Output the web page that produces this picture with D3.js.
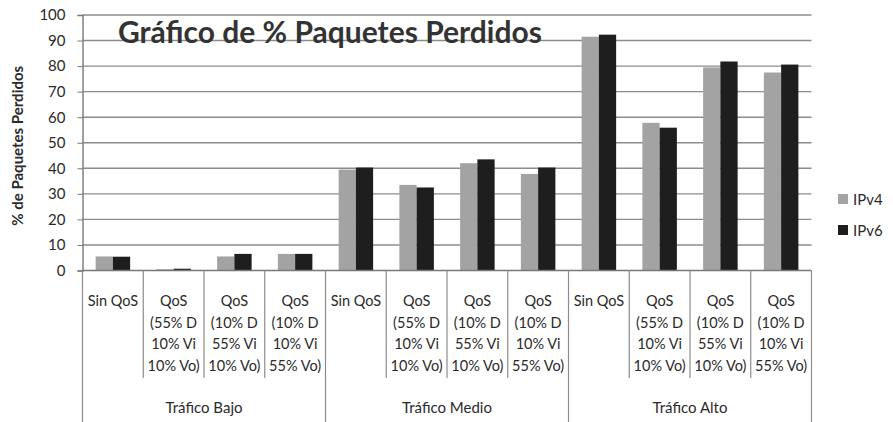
<!DOCTYPE html>
<html>
<head>
<meta charset="utf-8">
<script src="https://cdn.jsdelivr.net/npm/d3@7"></script>
<style>
  body { margin: 0; background: #fff; }
  svg { display: block; font-family: Lato, "Open Sans", sans-serif; }
</style>
</head>
<body>
<div id="chartDiv"></div>
<script>
var width = 893;
var height = 422;

// data
var groups = ["Tráfico Bajo", "Tráfico Medio", "Tráfico Alto"];
var subLabels = [
  ["Sin QoS"],
  ["QoS", "(55% D", "10% Vi", "10% Vo)"],
  ["QoS", "(10% D", "55% Vi", "10% Vo)"],
  ["QoS", "(10% D", "10% Vi", "55% Vo)"]
];
var series = ["IPv4", "IPv6"];
var ipv4 = [5.5, 0.5, 5.5, 6.5,  39.5, 33.5, 42, 37.8,  91.5, 57.8, 79.5, 77.5];
var ipv6 = [5.4, 0.7, 6.5, 6.5,  40.3, 32.5, 43.5, 40.3,  92.3, 55.9, 81.8, 80.6];
var yTicks = [0, 10, 20, 30, 40, 50, 60, 70, 80, 90, 100];

var colors = {IPv4: "#a3a3a3", IPv6: "#1e1e1e"};

var cats = d3.range(ipv4.length);
var rows = cats.map(i => ({i, IPv4: ipv4[i], IPv6: ipv6[i]}));

var plotL = 82.5, plotR = 811.5, plotT = 15, plotB = 270.5;

var x = d3.scaleBand().domain(cats).range([plotL, plotR]).padding(0);
var xs = d3.scaleBand().domain(series).range([0, x.bandwidth()]).paddingInner(0).paddingOuter(0.76);
var y = d3.scaleLinear().domain([0, 100]).range([plotB, plotT]);

var svg = d3.select("#chartDiv").append("svg")
    .attr("width", width)
    .attr("height", height);

// gridlines
svg.append("g")
  .selectAll("line")
  .data(yTicks.filter(d => d > 0))
  .join("line")
    .attr("x1", plotL).attr("x2", plotR)
    .attr("y1", d => y(d)).attr("y2", d => y(d))
    .attr("stroke", "#8c8c8c")
    .attr("stroke-width", 1.4);

// y axis
var yAxis = svg.append("g")
    .attr("transform", `translate(${plotL},0)`)
    .call(d3.axisLeft(y).tickValues(yTicks).tickSize(5).tickPadding(12));
yAxis.select(".domain").attr("stroke", "#777").attr("stroke-width", 1.4);
yAxis.selectAll(".tick line").attr("stroke", "#777");
yAxis.selectAll("text")
    .attr("font-family", "Lato, sans-serif")
    .attr("font-size", 15)
    .attr("fill", "#2a2a2a");

// title
svg.append("text")
    .attr("x", 118).attr("y", 43)
    .attr("font-size", 30)
    .attr("font-weight", "bold")
    .attr("fill", "#333")
    .text("Gráfico de % Paquetes Perdidos");

// y label
svg.append("text")
    .attr("transform", `translate(23,${(plotT + plotB) / 2 + 3}) rotate(-90)`)
    .attr("text-anchor", "middle")
    .attr("font-size", 15)
    .attr("font-weight", "bold")
    .attr("fill", "#2a2a2a")
    .text("% de Paquetes Perdidos");

// bars
svg.append("g")
  .selectAll("g")
  .data(rows)
  .join("g")
    .attr("transform", d => `translate(${x(d.i)},0)`)
  .selectAll("rect")
  .data(d => series.map(s => ({s, v: d[s]})))
  .join("rect")
    .attr("x", d => xs(d.s))
    .attr("width", xs.bandwidth())
    .attr("y", d => y(d.v))
    .attr("height", d => y(0) - y(d.v))
    .attr("fill", d => colors[d.s]);

// x axis line
svg.append("line")
    .attr("x1", plotL).attr("x2", plotR)
    .attr("y1", plotB).attr("y2", plotB)
    .attr("stroke", "#777").attr("stroke-width", 1.4);

// category dividers
var bounds = d3.range(cats.length + 1).map(i => plotL + i * x.step());
svg.append("g")
  .selectAll("line")
  .data(bounds)
  .join("line")
    .attr("x1", d => d).attr("x2", d => d)
    .attr("y1", plotB)
    .attr("y2", (d, i) => i % 4 === 0 ? height : 378)
    .attr("stroke", "#8c8c8c")
    .attr("stroke-width", 1.2);

// category labels
var catLab = svg.append("g")
  .selectAll("text")
  .data(cats)
  .join("text")
    .attr("x", d => x(d) + x.bandwidth() / 2)
    .attr("text-anchor", "middle")
    .attr("font-size", 14.5)
    .attr("fill", "#2a2a2a");
catLab.selectAll("tspan")
  .data(d => subLabels[d % 4])
  .join("tspan")
    .attr("x", function() { return this.parentNode.getAttribute("x"); })
    .attr("y", (d, i) => 306 + i * 21.6)
    .text(d => d);

// group labels
svg.append("g")
  .selectAll("text")
  .data(groups)
  .join("text")
    .attr("x", (d, i) => (bounds[i * 4] + bounds[i * 4 + 4]) / 2)
    .attr("y", 413)
    .attr("text-anchor", "middle")
    .attr("font-size", 15)
    .attr("fill", "#2a2a2a")
    .text(d => d);

// legend
var leg = svg.append("g")
  .selectAll("g")
  .data(series)
  .join("g")
    .attr("transform", (d, i) => `translate(838,${199 + i * 31})`);
leg.append("rect")
    .attr("x", 0).attr("y", -5)
    .attr("width", 10).attr("height", 10)
    .attr("fill", d => colors[d]);
leg.append("text")
    .attr("x", 15).attr("y", 5.5)
    .attr("font-size", 15)
    .attr("fill", "#2a2a2a")
    .text(d => d);
</script>
</body>
</html>
